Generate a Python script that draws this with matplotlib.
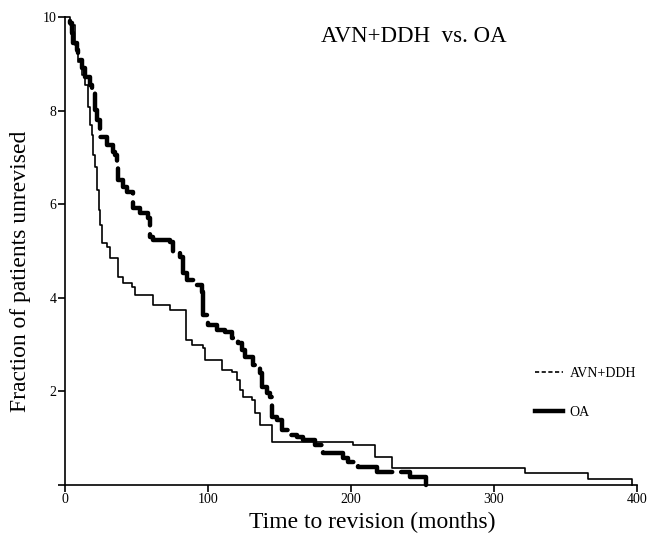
import numpy as np
import matplotlib.pyplot as plt
from matplotlib.lines import Line2D

plt.rcParams['font.family'] = ['Liberation Serif', 'DejaVu Serif']

# Kaplan-Meier style curves (months, fraction x10)
avn_t = [0, 3.5, 7, 9.1, 11.9, 14, 16.1, 17.5, 18.9, 19.6, 21, 22.4, 23.8, 24.5,
         25.9, 29.4, 31.5, 37.1, 40.6, 46.9, 49, 61.5, 73.4, 84.6, 88.8, 96.5,
         97.9, 109.8, 116.8, 120.3, 122.4, 124.5, 130.8, 132.9, 136.4, 144.8,
         201.4, 216.8, 228.7, 321.7, 365.7, 396.5]
avn_s = [10, 9.83, 9.4, 9.04, 8.76, 8.55, 8.08, 7.69, 7.48, 7.05, 6.8, 6.3, 5.88,
         5.56, 5.17, 5.09, 4.85, 4.44, 4.32, 4.23, 4.06, 3.85, 3.74, 3.1, 2.99,
         2.93, 2.67, 2.46, 2.41, 2.24, 2.03, 1.88, 1.82, 1.54, 1.28, 0.92,
         0.85, 0.6, 0.36, 0.26, 0.13, 0]

oa_t = [0, 3.5, 4.9, 5.6, 8.4, 9.1, 11.9, 14, 17.5, 18.9, 21, 22.4, 24.5, 29.4,
        33.6, 35, 36.4, 37.1, 40.6, 43.4, 47.6, 52.4, 58, 59.4, 61.5, 73.4,
        75.5, 80.4, 82.5, 85.3, 92.3, 95.8, 96.5, 100, 106.3, 111.9, 116.8,
        121, 123.8, 125.9, 131.5, 136.4, 137.8, 141.3, 143.4, 144.8, 148.3,
        151.7, 155.9, 162.2, 166.4, 174.8, 180.4, 194.4, 197.9, 204.9, 218.2,
        241.3, 252.4]
oa_s = [10, 9.87, 9.66, 9.44, 9.3, 9.08, 8.91, 8.72, 8.55, 8.38, 8.01, 7.8, 7.44,
        7.26, 7.12, 7.05, 6.77, 6.52, 6.37, 6.26, 5.92, 5.81, 5.7, 5.3, 5.23,
        5.19, 4.98, 4.87, 4.53, 4.38, 4.27, 4.12, 3.63, 3.42, 3.31, 3.27, 3.14,
        3.03, 2.88, 2.74, 2.56, 2.39, 2.09, 1.97, 1.88, 1.45, 1.39, 1.18, 1.07,
        1.03, 0.96, 0.85, 0.68, 0.58, 0.49, 0.38, 0.27, 0.17, 0]

xticks = [0, 100, 200, 300, 400]
yticks = [0, 2, 4, 6, 8, 10]
ytick_labels = ['', '2', '4', '6', '8', '10']

fig = plt.figure(figsize=(6.61, 5.34), dpi=100)
ax = fig.add_axes([0.0983, 0.0918, 0.8654, 0.8764])

ax.plot(avn_t, avn_s, drawstyle='steps-post', color='black', lw=1.2, clip_on=False)
ax.plot(oa_t, oa_s, drawstyle='steps-post', color='black', lw=3.2,
        linestyle=(20, (9, 2.0)), dash_capstyle='round', dash_joinstyle='round',
        clip_on=False)

ax.set_xlim(0, 400)
ax.set_ylim(0, 10)
ax.set_xticks(xticks)
ax.set_yticks(yticks)
ax.set_yticklabels(ytick_labels)
for s in ['top', 'right']:
    ax.spines[s].set_visible(False)
for s in ['left', 'bottom']:
    ax.spines[s].set_linewidth(1.2)
ax.tick_params(direction='out', length=5, width=1.2, labelsize=10, pad=1)

ax.set_xlabel('Time to revision (months)', fontsize=17, labelpad=2)
ax.xaxis.set_label_coords(0.537, -0.058)
ax.set_ylabel('Fraction of patients unrevised', fontsize=17)
ax.yaxis.set_label_coords(-0.06, 0.457)

fig.text(0.626, 0.932, 'AVN+DDH  vs. OA', fontsize=16.5, ha='center', va='center')

handles = [Line2D([], [], color='black', lw=1.2, ls=(0, (2.5, 1.5))),
           Line2D([], [], color='black', lw=3.2)]
ax.legend(handles, ['AVN+DDH', 'OA'], loc='upper left', bbox_to_anchor=(0.8, 0.279),
          frameon=False, fontsize=10, handlelength=2, handletextpad=0.5,
          labelspacing=1.9)

fig.savefig('out.png', dpi=100)
